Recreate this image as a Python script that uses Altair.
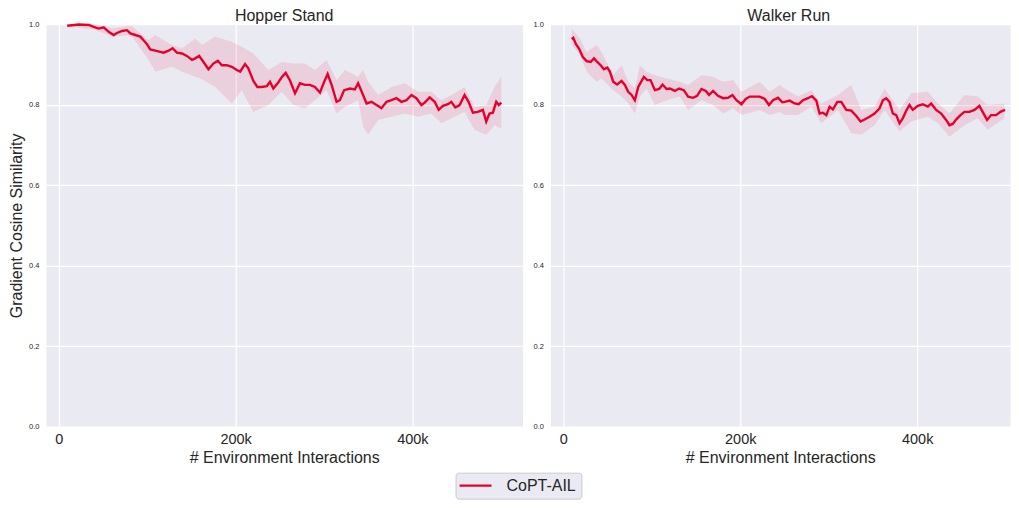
import altair as alt
import pandas as pd

FONT = "Liberation Sans"
RED = "#E8002D"
TXT = "#262626"

# ---- Hopper Stand (x in thousands of environment interactions) ----
hopper_step = [9.5, 22.6, 33.9, 39.5, 45.1, 50.8, 56.4, 62.1, 65.9, 71.6,
               77.2, 80.9, 86.6, 92.2, 95.9, 99.8, 103.5, 109.1, 114.8, 118.5,
               124.2, 128.7, 133.6, 139.3, 144.9, 150.6, 154.3, 158.8, 163.7, 169.3,
               174.9, 179.9, 184.4, 190.1, 195.7, 201.4, 205.1, 210.7, 214.4, 220.1,
               224.6, 229.6, 235.2, 238.9, 242.7, 247.6, 252.1, 256.7, 261.5, 267.2,
               272.8, 278.4, 284.1, 289.7, 295.4, 300.2, 304.1, 308.6, 314.2, 317.9,
               322.8, 329.2, 334.9, 338.6, 344.2, 348.1, 353.7, 359.4, 365.0, 370.7,
               376.3, 381.9, 387.6, 393.2, 398.9, 404.5, 410.2, 413.9, 419.5, 425.2,
               429.7, 434.5, 440.2, 444.0, 448.5, 453.4, 459.0, 463.5, 468.4, 474.0,
               479.7, 483.5, 487.2, 491.0, 494.8, 497.7, 500.5]
hopper_sim = [0.996, 0.999, 0.998, 0.993, 0.989, 0.992, 0.981, 0.973, 0.978, 0.983,
              0.985, 0.977, 0.973, 0.969, 0.960, 0.950, 0.937, 0.934, 0.931, 0.929,
              0.934, 0.940, 0.929, 0.927, 0.921, 0.911, 0.915, 0.921, 0.906, 0.888,
              0.902, 0.909, 0.898, 0.898, 0.894, 0.886, 0.882, 0.901, 0.890, 0.859,
              0.844, 0.844, 0.846, 0.857, 0.840, 0.853, 0.868, 0.879, 0.860, 0.828,
              0.853, 0.849, 0.849, 0.844, 0.830, 0.857, 0.876, 0.849, 0.807, 0.811,
              0.836, 0.840, 0.838, 0.853, 0.824, 0.803, 0.807, 0.799, 0.791, 0.807,
              0.811, 0.816, 0.807, 0.811, 0.824, 0.816, 0.799, 0.805, 0.818, 0.807,
              0.787, 0.797, 0.801, 0.807, 0.793, 0.799, 0.824, 0.807, 0.780, 0.782,
              0.787, 0.758, 0.778, 0.780, 0.807, 0.799, 0.805]
hopper_band_step = [9.5, 40, 60, 78, 82.8, 101.6, 109.1, 128, 139.3, 154.3,
                    161.9, 176.9, 195.7, 207, 220.1, 237, 252.1, 265.2, 278.4, 289.7,
                    302.9, 314.2, 323.6, 338.6, 344.2, 349.9, 361.2, 376.3, 391.3, 406.3,
                    421.4, 432.7, 447.7, 459, 470.3, 483.5, 492.9, 500.5]
hopper_band_hi = [0.998, 1.0, 0.990, 0.995, 0.995, 0.960, 0.973, 0.948, 0.940, 0.964,
                  0.948, 0.969, 0.956, 0.944, 0.927, 0.886, 0.906, 0.902, 0.902, 0.886,
                  0.911, 0.861, 0.886, 0.869, 0.886, 0.857, 0.824, 0.844, 0.853, 0.832,
                  0.832, 0.811, 0.828, 0.844, 0.795, 0.799, 0.844, 0.869]
hopper_band_lo = [0.994, 0.986, 0.970, 0.972, 0.969, 0.911, 0.882, 0.894, 0.882, 0.869,
                  0.863, 0.844, 0.803, 0.836, 0.782, 0.799, 0.832, 0.800, 0.791, 0.811,
                  0.836, 0.778, 0.795, 0.811, 0.745, 0.725, 0.762, 0.770, 0.778, 0.770,
                  0.778, 0.754, 0.770, 0.782, 0.737, 0.725, 0.749, 0.741]

# ---- Walker Run ----
walker_step = [9.5, 11.3, 14.3, 18.1, 21.9, 26.4, 30.9, 34.7, 38.4, 42.2,
               45.9, 49.7, 52.7, 56.4, 60.9, 65.9, 69.6, 73.4, 77.2, 80.9,
               84.7, 91.1, 94.8, 98.6, 103.5, 108.4, 112.2, 116.7, 120.4, 126.1,
               130.9, 136.2, 141.1, 146.7, 151.2, 156.2, 161.1, 164.8, 169.3, 174.9,
               180.6, 186.2, 191.2, 195.7, 201.4, 206.2, 210.7, 216.4, 222.0, 227.7,
               232.5, 237.0, 242.7, 247.6, 250.2, 255.9, 261.5, 266.0, 270.9, 276.5,
               281.0, 286.0, 289.7, 293.5, 297.3, 301.0, 304.7, 309.7, 314.2, 319.9,
               325.5, 331.2, 336.0, 340.5, 346.2, 351.8, 357.5, 361.2, 365.0, 368.7,
               372.5, 376.3, 380.0, 383.7, 387.6, 391.3, 395.0, 400.7, 406.3, 412.0,
               415.8, 421.4, 427.1, 432.7, 436.5, 440.2, 444.0, 448.9, 453.4, 459.0,
               464.7, 470.3, 474.0, 479.0, 483.5, 489.2, 494.0, 499.3]
walker_sim = [0.963, 0.966, 0.950, 0.938, 0.919, 0.908, 0.906, 0.915, 0.906, 0.898,
              0.888, 0.892, 0.882, 0.857, 0.850, 0.859, 0.849, 0.832, 0.824, 0.811,
              0.844, 0.869, 0.861, 0.861, 0.836, 0.839, 0.850, 0.839, 0.840, 0.834,
              0.840, 0.836, 0.820, 0.817, 0.822, 0.839, 0.834, 0.824, 0.834, 0.822,
              0.816, 0.817, 0.824, 0.811, 0.801, 0.814, 0.820, 0.820, 0.820, 0.814,
              0.799, 0.811, 0.817, 0.806, 0.807, 0.810, 0.803, 0.801, 0.811, 0.816,
              0.821, 0.810, 0.778, 0.780, 0.774, 0.795, 0.788, 0.807, 0.807, 0.787,
              0.785, 0.772, 0.758, 0.763, 0.770, 0.778, 0.791, 0.811, 0.816, 0.807,
              0.778, 0.774, 0.754, 0.766, 0.785, 0.799, 0.787, 0.797, 0.801, 0.795,
              0.803, 0.787, 0.778, 0.762, 0.749, 0.752, 0.763, 0.774, 0.782, 0.782,
              0.787, 0.797, 0.782, 0.762, 0.774, 0.774, 0.782, 0.787]
walker_band_step = [9.5, 18.8, 26.4, 37.7, 43.3, 56.4, 65.9, 73.4, 80.9, 86.6,
                    94.1, 103.5, 116.7, 131.7, 141.1, 156.2, 169.3, 180.6, 191.9, 201.4,
                    222, 233.3, 244.6, 250.2, 265.2, 280.4, 291.6, 310.4, 325.5, 336.8,
                    351.8, 363.1, 380, 393.2, 412, 423.3, 436.5, 453.4, 468.4, 479.7,
                    498.5]
walker_band_hi = [0.988, 0.964, 0.931, 0.948, 0.931, 0.873, 0.898, 0.857, 0.840, 0.898,
                  0.882, 0.873, 0.865, 0.857, 0.849, 0.873, 0.869, 0.857, 0.861, 0.832,
                  0.857, 0.832, 0.849, 0.840, 0.820, 0.836, 0.803, 0.824, 0.849, 0.787,
                  0.795, 0.840, 0.787, 0.828, 0.832, 0.803, 0.778, 0.824, 0.820, 0.799,
                  0.803]
walker_band_lo = [0.948, 0.923, 0.882, 0.857, 0.865, 0.836, 0.820, 0.803, 0.778, 0.820,
                  0.840, 0.799, 0.811, 0.820, 0.787, 0.811, 0.799, 0.778, 0.791, 0.774,
                  0.787, 0.774, 0.782, 0.774, 0.774, 0.795, 0.754, 0.787, 0.729, 0.725,
                  0.749, 0.787, 0.733, 0.758, 0.770, 0.754, 0.720, 0.749, 0.766, 0.737,
                  0.766]

METHOD = "CoPT-AIL"
x_ticks = [0, 200, 400]
y_ticks = [0.0, 0.2, 0.4, 0.6, 0.8, 1.0]

PLOT_H = 403


def panel(title, steps, sims, bsteps, blo, bhi, width, xmax, ytitle, title_dx):
    line_df = pd.DataFrame({"step": steps, "sim": sims, "method": METHOD})
    band_df = pd.DataFrame({"step": bsteps, "lo": blo, "hi": bhi})
    xscale = alt.Scale(domain=[-14.5, xmax], nice=False, zero=False)
    yscale = alt.Scale(domain=[0, 1], nice=False)
    xaxis = alt.Axis(values=x_ticks,
                     labelExpr="datum.value == 0 ? '0' : datum.value + 'k'",
                     title="# Environment Interactions",
                     labelFontSize=14.5, titleFontSize=16,
                     labelPadding=6, titlePadding=3)
    if ytitle:
        yaxis = alt.Axis(values=y_ticks, format=".1f", title=ytitle,
                         labelFontSize=7.5, titleFontSize=16,
                         labelPadding=7, titlePadding=4)
    else:
        yaxis = alt.Axis(values=y_ticks, format=".1f", title=None,
                         labelFontSize=7.5, labelPadding=7)
    band = alt.Chart(band_df).mark_area(color=RED, opacity=0.11).encode(
        x=alt.X("step:Q", scale=xscale, axis=xaxis),
        y=alt.Y("lo:Q", scale=yscale, axis=yaxis),
        y2="hi:Q",
    )
    line = alt.Chart(line_df).mark_line(strokeWidth=2.4).encode(
        x=alt.X("step:Q", scale=xscale, axis=xaxis),
        y=alt.Y("sim:Q", scale=yscale, axis=yaxis),
        color=alt.Color(
            "method:N",
            scale=alt.Scale(domain=[METHOD], range=[RED]),
            legend=alt.Legend(
                title=None, orient="none", legendX=410, legendY=449,
                symbolType="M-4,0L4,0", symbolSize=64, symbolStrokeWidth=2.4,
                symbolOffset=7, labelOffset=23,
                labelFontSize=16, labelFont=FONT, labelColor=TXT,
                padding=5, fillColor="#EAEAF2", strokeColor="#CCCCCC",
                cornerRadius=3,
            ),
        ),
    )
    return alt.layer(band, line).properties(
        width=width, height=PLOT_H,
        title=alt.TitleParams(title, dx=title_dx),
    )


left = panel("Hopper Stand", hopper_step, hopper_sim, hopper_band_step,
             hopper_band_lo, hopper_band_hi, 477, 524.5,
             "Gradient Cosine Similarity", 0)
right = panel("Walker Run", walker_step, walker_sim, walker_band_step,
              walker_band_lo, walker_band_hi, 460, 504.9, None, 8.5)

chart = (
    alt.hconcat(left, right, spacing=28, bounds="flush")
    .properties(padding={"top": -2.1, "left": 0, "right": 0, "bottom": 0})
    .configure_view(fill="#EAEAF2", stroke="transparent")
    .configure_axis(grid=True, gridColor="white", gridWidth=1.2,
                    domain=False, ticks=False,
                    labelFont=FONT, titleFont=FONT,
                    labelColor=TXT, titleColor=TXT,
                    titleFontWeight="normal")
    .configure_title(font=FONT, fontSize=16, fontWeight="normal",
                     color=TXT, anchor="middle", offset=-3.8)
)

chart.save("out.html", embed_options={"renderer": "svg", "actions": False})
